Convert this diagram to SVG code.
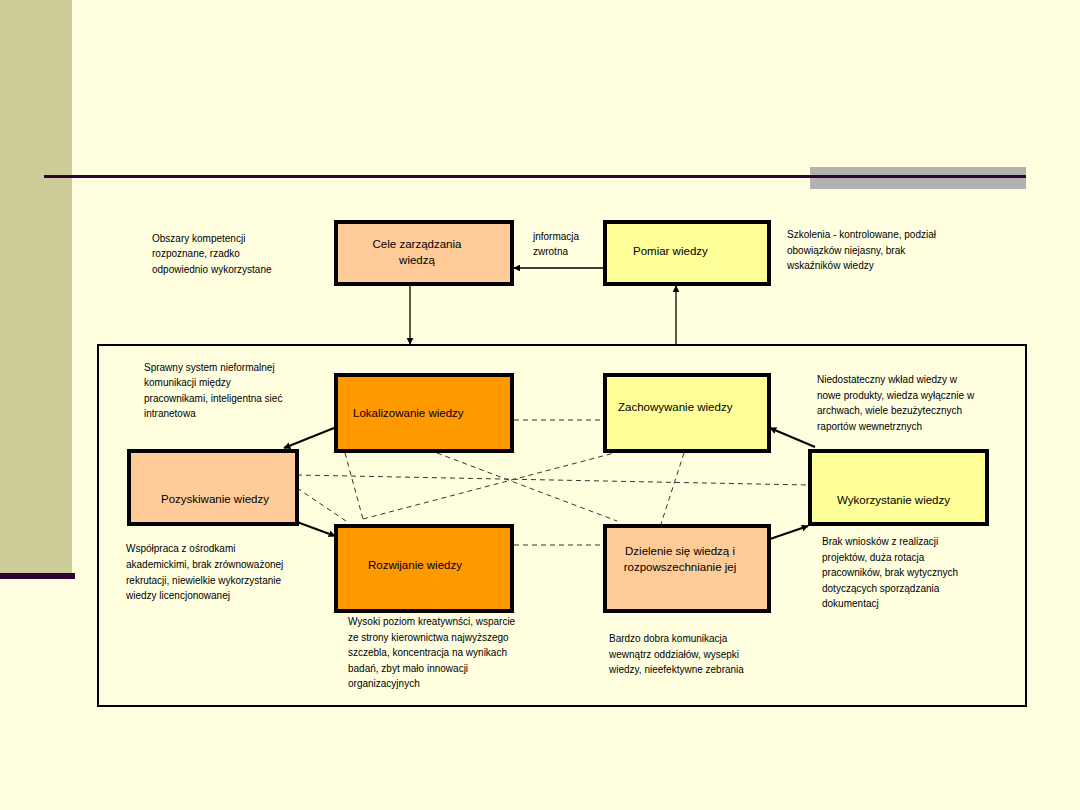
<svg xmlns="http://www.w3.org/2000/svg" width="1080" height="810" viewBox="0 0 1080 810">
<style>
.box{stroke:#000;stroke-width:4}
.lbl{font-family:"Liberation Sans",Arial,sans-serif;font-size:11.5px;fill:#000}
.note{font-family:"Liberation Sans",Arial,sans-serif;font-size:10px;fill:#000}
.arr{stroke:#000;stroke-width:2;fill:none;marker-end:url(#ah)}
.arr1{stroke:#000;stroke-width:1.3;fill:none;marker-end:url(#ah)}
.dash{stroke:#333;stroke-width:1;stroke-dasharray:5,4;fill:none}
</style>
<defs>
<marker id="ah" viewBox="0 0 10 10" refX="9" refY="5" markerWidth="7" markerHeight="7" markerUnits="userSpaceOnUse" orient="auto">
<path d="M0,0 L10,5 L0,10 z" fill="#000"/>
</marker>
</defs>
<rect width="1080" height="810" fill="#FFFFE0"/>
<g id="decor">
<rect x="0" y="0" width="72" height="575" fill="#CCCC99"/>
<rect x="0" y="573" width="75" height="6" fill="#330033"/>
<rect x="810" y="167" width="216" height="22" fill="#B2B2B2"/>
<rect x="44" y="175" width="982" height="3" fill="#330033"/>
</g>
<g id="frame"><rect x="98" y="345" width="928" height="361" fill="none" stroke="#000" stroke-width="2"/></g>
<g id="connectors">
<line class="dash" x1="514" y1="420" x2="605" y2="420"/>
<line class="dash" x1="514" y1="545" x2="605" y2="545"/>
<line class="dash" x1="297" y1="475" x2="808" y2="485"/>
<line class="dash" x1="297" y1="488" x2="346" y2="521"/>
<line class="dash" x1="345" y1="453" x2="363" y2="519"/>
<line class="dash" x1="363" y1="519" x2="618" y2="452"/>
<line class="dash" x1="437" y1="453" x2="617" y2="521"/>
<line class="dash" x1="684" y1="453" x2="661" y2="524"/>
<line class="arr1" x1="410" y1="286" x2="410" y2="344"/>
<line class="arr1" x1="676" y1="345" x2="676" y2="286"/>
<line class="arr1" x1="605" y1="268" x2="514" y2="268"/>
<line class="arr" x1="334" y1="428" x2="284" y2="448"/>
<line class="arr" x1="297" y1="522" x2="335" y2="536"/>
<line class="arr" x1="770" y1="539" x2="808" y2="526"/>
<line class="arr" x1="815" y1="447" x2="770" y2="428"/>
</g>
<g id="cele"><rect class="box" x="336" y="222" width="176" height="62" fill="#FFCC99"/>
<text class="lbl" x="417" y="248" text-anchor="middle">Cele zarządzania</text><text class="lbl" x="417" y="264" text-anchor="middle">wiedzą</text></g>
<g id="pomiar"><rect class="box" x="605" y="222" width="164" height="62" fill="#FFFF99"/>
<text class="lbl" x="633" y="255">Pomiar wiedzy</text></g>
<g id="lokalizowanie"><rect class="box" x="336" y="375" width="176" height="76" fill="#FF9900"/>
<text class="lbl" x="353" y="417">Lokalizowanie wiedzy</text></g>
<g id="zachowywanie"><rect class="box" x="605" y="375" width="164" height="76" fill="#FFFF99"/>
<text class="lbl" x="618" y="411">Zachowywanie wiedzy</text></g>
<g id="pozyskiwanie"><rect class="box" x="129" y="451" width="168" height="73" fill="#FFCC99"/>
<text class="lbl" x="161" y="503">Pozyskiwanie wiedzy</text></g>
<g id="wykorzystanie"><rect class="box" x="810" y="451" width="177" height="73" fill="#FFFF99"/>
<text class="lbl" x="837" y="504">Wykorzystanie wiedzy</text></g>
<g id="rozwijanie"><rect class="box" x="336" y="526" width="176" height="85" fill="#FF9900"/>
<text class="lbl" x="368" y="569">Rozwijanie wiedzy</text></g>
<g id="dzielenie"><rect class="box" x="605" y="526" width="164" height="85" fill="#FFCC99"/>
<text class="lbl" x="680" y="555" text-anchor="middle">Dzielenie się wiedzą i</text><text class="lbl" x="680" y="571" text-anchor="middle">rozpowszechnianie jej</text></g>
<g id="notes">
<text class="note" x="152" y="242">Obszary kompetencji</text>
<text class="note" x="152" y="257">rozpoznane, rzadko</text>
<text class="note" x="152" y="273">odpowiednio wykorzystane</text>
<text class="note" x="533" y="240">jnformacja</text>
<text class="note" x="533" y="255">zwrotna</text>
<text class="note" x="787" y="238">Szkolenia - kontrolowane, podział</text>
<text class="note" x="787" y="254">obowiązków niejasny, brak</text>
<text class="note" x="787" y="269">wskaźników wiedzy</text>
<text class="note" x="144" y="371">Sprawny system nieformalnej</text>
<text class="note" x="144" y="386">komunikacji między</text>
<text class="note" x="144" y="402">pracownikami, inteligentna sieć</text>
<text class="note" x="144" y="417">intranetowa</text>
<text class="note" x="817" y="383">Niedostateczny wkład wiedzy w</text>
<text class="note" x="817" y="399">nowe produkty, wiedza wyłącznie w</text>
<text class="note" x="817" y="414">archwach, wiele bezużytecznych</text>
<text class="note" x="817" y="430">raportów wewnetrznych</text>
<text class="note" x="126" y="552">Współpraca z ośrodkami</text>
<text class="note" x="126" y="568">akademickimi, brak zrównoważonej</text>
<text class="note" x="126" y="584">rekrutacji, niewielkie wykorzystanie</text>
<text class="note" x="126" y="599">wiedzy licencjonowanej</text>
<text class="note" x="348" y="625">Wysoki poziom kreatywnści, wsparcie</text>
<text class="note" x="348" y="641">ze strony kierownictwa najwyższego</text>
<text class="note" x="348" y="656">szczebla, koncentracja na wynikach</text>
<text class="note" x="348" y="672">badań, zbyt mało innowacji</text>
<text class="note" x="348" y="687">organizacyjnych</text>
<text class="note" x="609" y="642">Bardzo dobra komunikacja</text>
<text class="note" x="609" y="658">wewnątrz oddziałów, wysepki</text>
<text class="note" x="609" y="673">wiedzy, nieefektywne zebrania</text>
<text class="note" x="822" y="545">Brak wniosków z realizacji</text>
<text class="note" x="822" y="561">projektów, duża rotacja</text>
<text class="note" x="822" y="576">pracowników, brak wytycznych</text>
<text class="note" x="822" y="592">dotyczących sporządzania</text>
<text class="note" x="822" y="607">dokumentacj</text>
</g>
</svg>
